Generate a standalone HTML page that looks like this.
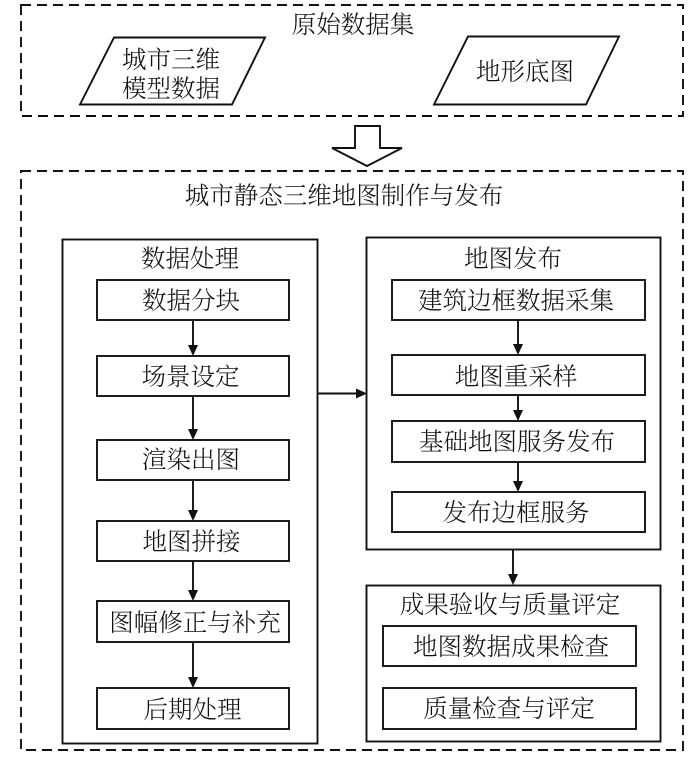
<!DOCTYPE html>
<html><head><meta charset="utf-8">
<style>
html,body{margin:0;padding:0;background:#fff;width:700px;height:757px;overflow:hidden}
svg{display:block}
text{font-family:"Liberation Serif","Noto Serif CJK SC",serif;font-size:24.5px;fill:#111;text-anchor:middle;font-weight:300}
.b{fill:#fff;stroke:#111;stroke-width:1.9}
.d{fill:none;stroke:#111;stroke-width:1.9;stroke-dasharray:10 6}
.l{stroke:#111;stroke-width:1.9;fill:none}
.h{fill:#111;stroke:none}
</style></head><body>
<svg width="700" height="757" viewBox="0 0 700 757" xmlns="http://www.w3.org/2000/svg">
<rect class="d" x="21" y="5" width="662" height="111"/>
<rect class="d" x="21" y="171" width="662" height="579"/>
<polygon class="b" points="114,37.500 265,37.500 232,104.500 80,104.500"/>
<polygon class="b" points="468,36.500 619,36.500 586,104.500 434,104.500"/>
<polygon class="b" points="355,126 380,126 380,148 402,148 367,166 332,148 355,148"/>
<text x="353" y="33">原始数据集</text>
<text x="171" y="68">城市三维</text>
<text x="171" y="97">模型数据</text>
<text x="525" y="80">地形底图</text>
<text x="344" y="204">城市静态三维地图制作与发布</text>

<rect class="b" x="62.500" y="239.500" width="255" height="504"/>
<rect class="b" x="366.500" y="237.500" width="294" height="312"/>
<rect class="b" x="366.500" y="585.500" width="294" height="156"/>

<text x="190" y="267">数据处理</text>
<text x="513" y="267">地图发布</text>
<text x="510" y="613">成果验收与质量评定</text>

<g>
<rect class="b" x="97" y="280" width="192" height="40"/>
<rect class="b" x="97" y="356" width="192" height="40"/>
<rect class="b" x="97" y="440" width="192" height="40"/>
<rect class="b" x="97" y="521" width="192" height="40"/>
<rect class="b" x="97" y="601" width="192" height="41"/>
<rect class="b" x="97" y="688" width="192" height="41"/>
<rect class="b" x="392" y="280" width="253" height="40"/>
<rect class="b" x="392" y="355" width="253" height="40"/>
<rect class="b" x="392" y="421" width="253" height="41"/>
<rect class="b" x="392" y="492" width="253" height="40"/>
<rect class="b" x="383" y="626" width="253" height="40"/>
<rect class="b" x="383" y="688" width="253" height="41"/>
</g>

<text x="191" y="309">数据分块</text>
<text x="190.500" y="385">场景设定</text>
<text x="191" y="468">渲染出图</text>
<text x="191.500" y="550">地图拼接</text>
<text x="195" y="631">图幅修正与补充</text>
<text x="192.500" y="718">后期处理</text>
<text x="516" y="309">建筑边框数据采集</text>
<text x="516" y="385">地图重采样</text>
<text x="517" y="450">基础地图服务发布</text>
<text x="516" y="521">发布边框服务</text>
<text x="511" y="655">地图数据成果检查</text>
<text x="509" y="717">质量检查与评定</text>

<g>
<line class="l" x1="193" y1="320" x2="193" y2="348"/><polygon class="h" points="188,345 198,345 193,356"/>
<line class="l" x1="193" y1="396" x2="193" y2="432"/><polygon class="h" points="188,429 198,429 193,440"/>
<line class="l" x1="193" y1="480" x2="193" y2="513"/><polygon class="h" points="188,510 198,510 193,521"/>
<line class="l" x1="193" y1="561" x2="193" y2="593"/><polygon class="h" points="188,590 198,590 193,601"/>
<line class="l" x1="193" y1="642" x2="193" y2="680"/><polygon class="h" points="188,677 198,677 193,688"/>
<line class="l" x1="518" y1="320" x2="518" y2="347"/><polygon class="h" points="513,344 523,344 518,355"/>
<line class="l" x1="518" y1="395" x2="518" y2="413"/><polygon class="h" points="513,410 523,410 518,421"/>
<line class="l" x1="518" y1="462" x2="518" y2="484"/><polygon class="h" points="513,481 523,481 518,492"/>
<line class="l" x1="513" y1="550" x2="513" y2="577"/><polygon class="h" points="508,574 518,574 513,585"/>
<line class="l" x1="318" y1="393.500" x2="358" y2="393.500"/><polygon class="h" points="356,388.500 356,398.500 367,393.500"/>
</g>
</svg>
</body></html>
